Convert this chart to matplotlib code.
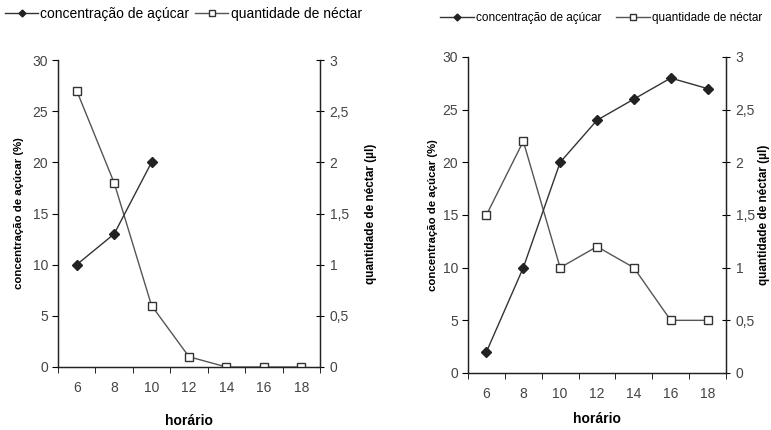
import matplotlib
matplotlib.use("Agg")
import matplotlib.pyplot as plt
import numpy as np

plt.rcParams['font.family'] = ['Liberation Sans', 'DejaVu Sans']

# horário categories
horas = ['6', '8', '10', '12', '14', '16', '18']

# left panel
acucar_1 = [10, 13, 20]
nectar_1 = [2.7, 1.8, 0.6, 0.1, 0, 0, 0]

# right panel
acucar_2 = [2, 10, 20, 24, 26, 28, 27]
nectar_2 = [1.5, 2.2, 1.0, 1.2, 1.0, 0.5, 0.5]

left_ticks = [0, 5, 10, 15, 20, 25, 30]
right_ticks = [0, 0.5, 1, 1.5, 2, 2.5, 3]
right_labels = ['0', '0,5', '1', '1,5', '2', '2,5', '3']

W, H = 771, 430
fig = plt.figure(figsize=(W / 100, H / 100), dpi=100)

tick_col = '#444444'


def draw_panel(px, acucar, nectar, leg, lab_x):
    x0, y0, x1, y1 = px
    ax = fig.add_axes([x0 / W, 1 - y1 / H, (x1 - x0) / W, (y1 - y0) / H])
    ax2 = ax.twinx()
    x = np.arange(len(horas))

    l2, = ax2.plot(x[:len(nectar)], nectar, color='#555555', lw=1.0,
                   marker='s', ms=6, mfc='white', mec='#333333', mew=1.0,
                   zorder=3)
    l1, = ax.plot(x[:len(acucar)], acucar, color='#333333', lw=1.0,
                  marker='D', ms=5, mfc='#222222', mec='#222222', zorder=4)
    ax.set_zorder(ax2.get_zorder() + 1)
    ax.patch.set_visible(False)

    ax.set_xlim(-0.5, len(horas) - 0.5)
    ax.set_ylim(0, 30)
    ax2.set_ylim(0, 3)

    ax.set_xticks(x)
    ax.set_xticklabels(horas)
    ax.set_xticks(np.arange(-0.5, len(horas)), minor=True)
    ax.tick_params(axis='x', which='major', length=0, pad=10,
                   labelsize=10, labelcolor=tick_col)
    ax.tick_params(axis='x', which='minor', length=4, direction='out')

    ax.set_yticks(left_ticks)
    ax.tick_params(axis='y', length=4, direction='out', labelsize=10,
                   labelcolor=tick_col, pad=3)
    ax2.set_yticks(right_ticks)
    ax2.set_yticklabels(right_labels)
    ax2.tick_params(axis='y', length=6, direction='inout', labelsize=10,
                    labelcolor=tick_col, pad=4)

    for a in (ax, ax2):
        a.spines['top'].set_visible(False)
        for s in ('left', 'right', 'bottom'):
            a.spines[s].set_linewidth(0.9)
            a.spines[s].set_color('#222222')

    cy = 1 - (y0 + y1) / 2 / H
    fig.text(lab_x[0] / W, cy, 'concentração de açúcar (%)', rotation=90,
             ha='center', va='center', fontsize=8.2, fontweight='bold')
    fig.text(lab_x[1] / W, cy, 'quantidade de néctar (µl)', rotation=90,
             ha='center', va='center', fontsize=8.5, fontweight='bold')
    fig.text((x0 + x1) / 2 / W, 1 - lab_x[2] / H, 'horário', ha='center',
             va='center', fontsize=10, fontweight='bold')

    fig.legend([l1, l2], ['concentração de açúcar', 'quantidade de néctar'],
               loc='upper left', bbox_to_anchor=(leg[0] / W, 1 - leg[1] / H),
               ncol=2, frameon=False, fontsize=leg[2], handlelength=leg[3],
               handletextpad=0.15, columnspacing=leg[4], markerscale=0.7,
               borderpad=0, borderaxespad=0)
    return ax, ax2


draw_panel((58, 60, 320, 367), acucar_1, nectar_1,
           (5, 7, 10, 2.4, 0.4), (19, 371, 421))
draw_panel((468, 57, 726, 373), acucar_2, nectar_2,
           (440, 12, 8.5, 2.9, 1.2), (433, 764, 419))

plt.savefig('out.png', dpi=100)
